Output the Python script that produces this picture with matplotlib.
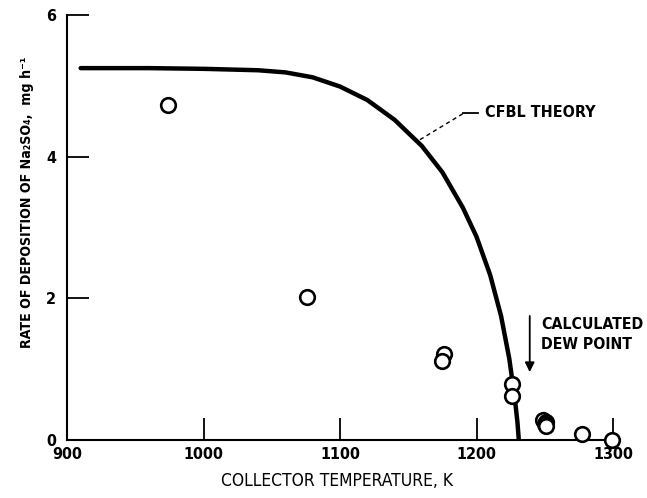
import matplotlib
matplotlib.use("Agg")
import matplotlib.pyplot as plt
from matplotlib import font_manager

# CFBL theory curve (K, mg/h)
theory_t = [910, 960, 1000, 1040, 1060, 1080, 1100, 1120, 1140, 1160,
            1175, 1190, 1200, 1210, 1218, 1224, 1228, 1230, 1231]
theory_r = [5.25, 5.25, 5.24, 5.22, 5.19, 5.12, 4.99, 4.80, 4.52, 4.15,
            3.78, 3.28, 2.87, 2.33, 1.75, 1.15, 0.60, 0.25, 0.0]

# measured deposition rates
meas_t = [974, 1076, 1176, 1175, 1226, 1226, 1249, 1251, 1250, 1251, 1277, 1299]
meas_r = [4.73, 2.02, 1.22, 1.11, 0.79, 0.62, 0.28, 0.25, 0.22, 0.20, 0.09, 0.0]

xticks = [900, 1000, 1100, 1200, 1300]
yticks = [0, 2, 4, 6]
dew_point = 1239


def pick_font(bold):
    # look for a condensed / narrow face, else plain DejaVu Sans
    cands = []
    for f in font_manager.fontManager.ttflist:
        fn = f.fname.lower()
        if ('condensed' in fn or 'narrow' in fn) and 'oblique' not in fn and 'italic' not in fn:
            is_bold = f.weight in ('bold', 700) or 'bold' in fn
            if is_bold == bold and 'mono' not in fn:
                cands.append(f.fname)
    cands.sort(key=lambda p: ('dejavu' not in p.lower(), p))
    if cands:
        return dict(fontproperties=font_manager.FontProperties(fname=cands[0]))
    return dict(family='DejaVu Sans', fontweight='bold' if bold else 'normal')


FB = pick_font(True)
FN = pick_font(False)


def kw(size, f=FB):
    d = dict(f)
    if 'fontproperties' in d:
        p = d['fontproperties'].copy()
        p.set_size(size)
        return dict(fontproperties=p)
    d['fontsize'] = size * 0.9
    return d


fig = plt.figure(figsize=(6.47, 4.98), dpi=100)
ax = fig.add_axes([67 / 647, 58 / 498, 546 / 647, 425 / 498])

ax.plot(theory_t, theory_r, color='black', lw=3.2, solid_capstyle='round')
ax.plot(meas_t, meas_r, 'o', ms=10.5, mfc='white', mec='black', mew=1.9,
        clip_on=False, zorder=3)

ax.set_xlim(900, 1300)
ax.set_ylim(0, 6)
ax.set_xticks(xticks)
ax.set_yticks(yticks)
ax.set_xticklabels([str(v) for v in xticks], **kw(11.5))
ax.set_yticklabels([str(v) for v in yticks], **kw(11.5))
for s in ['top', 'right']:
    ax.spines[s].set_visible(False)
for s in ['left', 'bottom']:
    ax.spines[s].set_linewidth(1.5)
ax.tick_params(direction='in', length=16, width=1.3)
ax.tick_params(axis='x', pad=5)
ax.tick_params(axis='y', pad=8)

# CFBL theory label with leader
ax.plot([1158.6, 1190.3], [4.24, 4.61], color='black', lw=1.0, ls=(0, (3, 2.5)))
ax.plot([1190.3, 1201.3], [4.61, 4.61], color='black', lw=1.3)
ax.text(1206, 4.62, 'CFBL THEORY', va='center', ha='left', **kw(11.5))

# dew point arrow and label
ax.annotate('', xy=(dew_point, 0.92), xytext=(dew_point, 1.79),
            arrowprops=dict(arrowstyle='-|>', color='black', lw=1.3,
                            mutation_scale=14))
ax.text(1247.5, 1.49, 'CALCULATED\nDEW POINT', va='center', ha='left',
        linespacing=1.4, **kw(11.3))

fig.text(337 / 647, 1 - 481 / 498, 'COLLECTOR TEMPERATURE, K',
         ha='center', va='center', **kw(12.5, FN))
fig.text(27 / 647, 1 - 202 / 498, 'RATE OF DEPOSITION OF Na\u2082SO\u2084,  mg h\u207b\u00b9',
         rotation=90, ha='center', va='center', **kw(10.2))

fig.savefig('out.png', dpi=100)
